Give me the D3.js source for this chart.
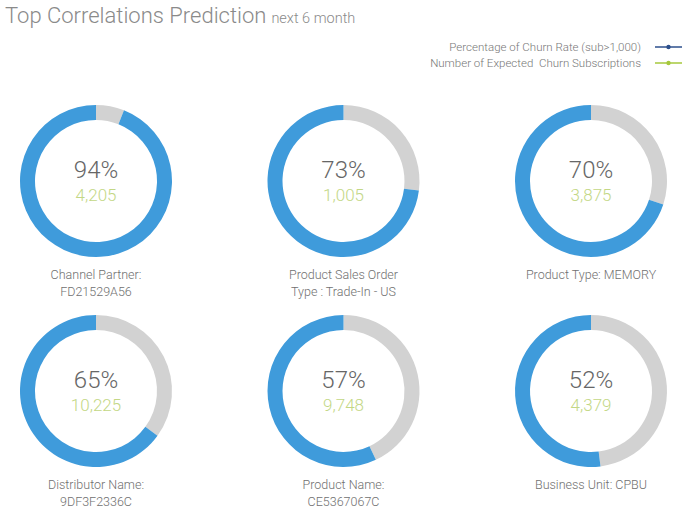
<!DOCTYPE html>
<html>
<head>
<meta charset="utf-8">
<script src="https://cdn.jsdelivr.net/npm/d3@7"></script>
<style>
  body { margin: 0; background: #fff; }
  svg text { font-family: "Helvetica Neue", Roboto, "Liberation Sans", Arial, sans-serif; }
</style>
</head>
<body>
<div id="chart"></div>
<script>
// Chart values
const labels = [
    ["Channel Partner:", "FD21529A56"],
    ["Product Sales Order", "Type : Trade-In - US"],
    ["Product Type: MEMORY"],
    ["Distributor Name:", "9DF3F2336C"],
    ["Product Name:", "CE5367067C"],
    ["Business Unit: CPBU"]
];
const churnRates = [94, 73, 70, 65, 57, 52];
const expectedChurn = [4205, 1005, 3875, 10225, 9748, 4379];
const legendItems = ["Percentage of Churn Rate (sub>1,000)", "Number of Expected  Churn Subscriptions"];

const width = 685, height = 515;
const blue = "#3f9bdb", grey = "#d2d2d2";
const legendColors = ["#2c4f8c", "#a6c83c"];

const svg = d3.select("#chart").append("svg")
    .attr("width", width)
    .attr("height", height);

// Title
const title = svg.append("text")
    .attr("x", 5)
    .attr("y", 23)
    .attr("fill", "#8a8a8a");
title.append("tspan")
    .style("font-size", "22px")
    .style("font-weight", 300)
    .text("Top Correlations Prediction");
title.append("tspan")
    .attr("dx", 5)
    .style("font-size", "14.5px")
    .style("font-weight", 300)
    .text("next 6 month");

// Legend
const legend = svg.selectAll("g.legend")
    .data(legendItems)
    .enter()
    .append("g")
    .attr("class", "legend")
    .attr("transform", (d, i) => `translate(0,${47 + i * 16})`);

legend.append("text")
    .attr("x", 641)
    .attr("y", 0)
    .attr("dy", "0.35em")
    .attr("text-anchor", "end")
    .attr("fill", "#777")
    .style("font-size", "11.5px")
    .style("font-weight", 300)
    .style("white-space", "pre")
    .text(d => d);

legend.append("line")
    .attr("x1", 655)
    .attr("x2", 682)
    .attr("stroke", (d, i) => legendColors[i])
    .attr("stroke-width", 1.5);

legend.append("circle")
    .attr("cx", 668.5)
    .attr("r", 2.2)
    .attr("fill", (d, i) => legendColors[i]);

// Grid placement of donuts
const colX = d3.scalePoint().domain([0, 1, 2]).range([96, 591]);
const rowY = d3.scalePoint().domain([0, 1]).range([181, 391]);

const outerR = 76, innerR = 61;
const arc = d3.arc().innerRadius(innerR).outerRadius(outerR);
// grey remainder first so the blue share ends at 12 o'clock
const pie = d3.pie().sort(null).value(d => d);

const donuts = svg.selectAll("g.donut")
    .data(churnRates)
    .enter()
    .append("g")
    .attr("class", "donut")
    .attr("transform", (d, i) => `translate(${colX(i % 3)},${rowY(Math.floor(i / 3))})`);

donuts.selectAll("path")
    .data(d => pie([100 - d, d]))
    .enter()
    .append("path")
    .attr("d", arc)
    .attr("fill", (d, i) => i === 0 ? grey : blue);

donuts.append("text")
    .attr("y", -3)
    .attr("text-anchor", "middle")
    .attr("fill", "#666")
    .style("font-size", "24px")
    .style("font-weight", 300)
    .text(d => d + "%");

donuts.append("text")
    .attr("y", 20)
    .attr("text-anchor", "middle")
    .attr("fill", "#c3d785")
    .style("font-size", "17px")
    .style("font-weight", 300)
    .text((d, i) => d3.format(",")(expectedChurn[i]));

// Labels under each donut
donuts.each(function(d, i) {
    const t = d3.select(this).append("text")
        .attr("text-anchor", "middle")
        .attr("fill", "#707070")
        .style("font-size", "12.5px")
        .style("font-weight", 300);
    labels[i].forEach((line, j) => {
        t.append("tspan")
            .attr("x", 0)
            .attr("y", 98 + j * 17)
            .text(line);
    });
});
</script>
</body>
</html>
